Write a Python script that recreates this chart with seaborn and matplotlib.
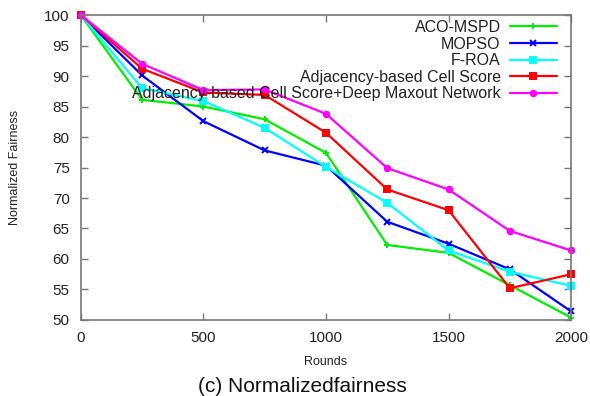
import matplotlib
matplotlib.use("Agg")
import matplotlib.pyplot as plt
import seaborn as sns
import pandas as pd
from matplotlib.lines import Line2D

rounds = [0, 250, 500, 750, 1000, 1250, 1500, 1750, 2000]
aco_mspd = [100, 86.1, 85.0, 82.9, 77.4, 62.3, 61.0, 55.7, 50.4]
mopso = [100, 90.1, 82.6, 77.8, 75.3, 66.1, 62.5, 58.3, 51.4]
f_roa = [100, 88.0, 85.9, 81.5, 75.1, 69.2, 61.4, 57.9, 55.6]
acs = [100, 91.2, 87.3, 86.9, 80.7, 71.4, 68.0, 55.2, 57.5]
acs_dmn = [100, 92.0, 87.7, 87.8, 83.8, 74.9, 71.4, 64.6, 61.4]
series_names = ["ACO-MSPD", "MOPSO", "F-ROA", "Adjacency-based Cell Score",
                "Adjacency-based Cell Score+Deep Maxout Network"]
x_ticks = [0, 500, 1000, 1500, 2000]
y_ticks = [50, 55, 60, 65, 70, 75, 80, 85, 90, 95, 100]

sns.set_style("white")
plt.rcParams["font.family"] = ["Liberation Sans", "DejaVu Sans"]

colors = {
    "ACO-MSPD": "#00ee00",
    "MOPSO": "#0000ff",
    "F-ROA": "#00ffff",
    "Adjacency-based Cell Score": "#ff0000",
    "Adjacency-based Cell Score+Deep Maxout Network": "#ff00ff",
}
markers = {
    "ACO-MSPD": "+",
    "MOPSO": "x",
    "F-ROA": "s",
    "Adjacency-based Cell Score": "s",
    "Adjacency-based Cell Score+Deep Maxout Network": "o",
}
msizes = {"ACO-MSPD": 5, "MOPSO": 5, "F-ROA": 4.5,
          "Adjacency-based Cell Score": 5,
          "Adjacency-based Cell Score+Deep Maxout Network": 4}

fig = plt.figure(figsize=(5.9, 3.96), dpi=100)
ax = fig.add_axes([0.137, 0.192, 0.831, 0.770])

for name, vals in zip(series_names, [aco_mspd, mopso, f_roa, acs, acs_dmn]):
    df = pd.DataFrame({"Rounds": rounds, "Value": vals})
    sns.lineplot(data=df, x="Rounds", y="Value", color=colors[name],
                 marker=markers[name], markersize=msizes[name],
                 markeredgewidth=1.4, markeredgecolor=colors[name],
                 markerfacecolor=colors[name], linewidth=1.6, ax=ax,
                 legend=False, clip_on=False)

ax.set_xlim(0, 2000)
ax.set_ylim(50, 100)
ax.set_xticks(x_ticks)
ax.set_yticks(y_ticks)
ax.tick_params(direction="in", length=5, width=1, color="#777777",
               labelsize=11, labelcolor="#222222", top=True, right=True,
               left=True, bottom=True, pad=8)
for sp in ax.spines.values():
    sp.set_color("#777777")
    sp.set_linewidth(1.2)

ax.set_xlabel("Rounds", fontsize=9, color="#222222", labelpad=8)
ax.set_ylabel("Normalized Fairness", fontsize=9, color="#222222", labelpad=17)

handles = [Line2D([0], [0], color=colors[n], marker=markers[n], lw=1.6,
                  markersize=msizes[n], markeredgewidth=1.4,
                  markerfacecolor=colors[n], markeredgecolor=colors[n])
           for n in series_names]
leg = ax.legend(handles, series_names, loc="upper right", frameon=False,
                markerfirst=False, fontsize=11.5, labelspacing=0.1,
                handlelength=2.9, handletextpad=0.6,
                bbox_to_anchor=(0.99, 1.015), borderaxespad=0.2)
for t in leg.get_texts():
    t.set_color("#222222")

fig.text(0.513, 0.024, "(c) Normalizedfairness", ha="center", va="center",
         fontsize=15, color="#111111")

fig.savefig("out.png", dpi=100)
